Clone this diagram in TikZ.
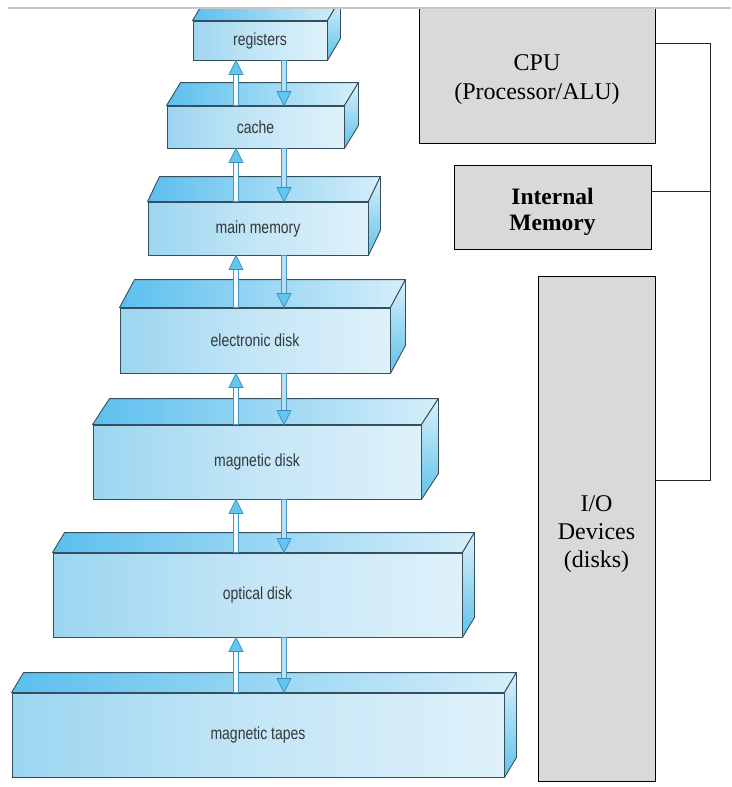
\documentclass[tikz,border=0pt]{standalone}
\usepackage{fontspec}
\usepackage{graphicx}
\setmainfont{Liberation Serif}
\newfontfamily\tiersans{Liberation Sans}
\usetikzlibrary{calc}

\definecolor{edgec}{HTML}{34505E}
\definecolor{faceL}{HTML}{9CD5F0}
\definecolor{faceM}{HTML}{C4E6F6}
\definecolor{faceR}{HTML}{DFF1FA}
\definecolor{topL}{HTML}{5CBFEE}
\definecolor{topR}{HTML}{D6EEF9}
\definecolor{sideT}{HTML}{DAF0FA}
\definecolor{sideB}{HTML}{60C1EC}
\definecolor{labelc}{HTML}{33383D}
\definecolor{shaftEdge}{HTML}{4197C2}
\definecolor{shaftUp}{HTML}{F4FAFD}
\definecolor{shaftDn}{HTML}{BFDDEC}
\definecolor{headFill}{HTML}{62C6F0}
\definecolor{headEdge}{HTML}{3A8CB8}
\definecolor{sysgray}{HTML}{D9D9D9}

\newcommand\tiertext[1]{\scalebox{0.8}[1]{#1}}

% top and right faces of a storage tier (node, depth dx, depth dy)
\newcommand\tierfaces[3]{%
  \path[topface] (#1.north west) -- ++(#2,#3) -- ($(#1.north east)+(#2,#3)$) -- (#1.north east) -- cycle;
  \path[sideface] (#1.north east) -- ++(#2,#3) -- ($(#1.south east)+(#2,#3)$) -- (#1.south east) -- cycle;
}
% upward transfer: from lower tier #1 to upper tier #2
\newcommand\climb[2]{%
  \path[shaftU] let \p1=(#1.north -| xu), \p2=(#2.south -| xu) in
    (\x1-2.5pt,\y1) rectangle (\x1+2.5pt,\y2-12pt);
  \path[headS] let \p2=(#2.south -| xu) in
    (\x2-7pt,\y2-14pt) -- (\x2,\y2) -- (\x2+7pt,\y2-14pt) -- cycle;
}
% downward transfer: from upper tier #1 to lower tier #2
\newcommand\descend[2]{%
  \path[shaftD] let \p1=(#1.south -| xd), \p2=(#2.north -| xd) in
    (\x1-2.5pt,\y1) rectangle (\x1+2.5pt,\y2+12pt);
  \path[headS] let \p2=(#2.north -| xd) in
    (\x2-7pt,\y2+14pt) -- (\x2,\y2) -- (\x2+7pt,\y2+14pt) -- cycle;
}

\tikzset{
  tier/.style={draw=edgec, line width=0.9pt, left color=faceL, right color=faceR,
    middle color=faceM, inner sep=0pt, text=labelc,
    font=\tiersans\fontsize{17.5}{20}\selectfont},
  topface/.style={draw=edgec, line width=0.9pt, line join=round, left color=topL, right color=topR},
  sideface/.style={draw=edgec, line width=0.9pt, line join=round, top color=sideT, bottom color=sideB},
  shaftU/.style={draw=shaftEdge, line width=0.8pt, fill=shaftUp},
  shaftD/.style={draw=shaftEdge, line width=0.8pt, fill=shaftDn},
  headS/.style={draw=headEdge, line width=0.7pt, fill=headFill, line join=round},
  sysbox/.style={draw=black, line width=1pt, fill=sysgray, inner sep=0pt},
  systext/.style={align=center, text=black, inner sep=0pt},
  bus/.style={draw=black!85, line width=1pt}
}

\begin{document}
\begin{tikzpicture}[x=1pt,y=-1pt]
\useasboundingbox (0,0) rectangle (731,787);
\fill[white] (0,0) rectangle (731,787);

\coordinate (xu) at (236,0);
\coordinate (xd) at (284,0);

\begin{scope}
\clip (0,8.6) rectangle (731,787);

% storage hierarchy
\node[tier, minimum width=134pt, minimum height=39pt] (reg) at (260,40.5) {\tiertext{registers}};
\tierfaces{reg}{13}{-22}
\node[tier, minimum width=177pt, minimum height=42pt] (cache) at (255.5,127) {\tiertext{cache}};
\tierfaces{cache}{14}{-23}
\node[tier, minimum width=220pt, minimum height=53pt] (mm) at (258,228.5) {\tiertext{main memory}};
\tierfaces{mm}{12}{-25}
\node[tier, minimum width=270pt, minimum height=65pt] (ed) at (255,340.5) {\tiertext{electronic disk}};
\tierfaces{ed}{15}{-28}
\node[tier, minimum width=328pt, minimum height=74pt] (md) at (257,462) {\tiertext{magnetic disk}};
\tierfaces{md}{17}{-26}
\node[tier, minimum width=409pt, minimum height=84pt] (od) at (257.5,595) {\tiertext{optical disk}};
\tierfaces{od}{12}{-20}
\node[tier, minimum width=492pt, minimum height=84pt] (mt) at (258,735) {\tiertext{magnetic tapes}};
\tierfaces{mt}{12}{-20}

% transfers between neighbouring tiers
\climb{cache}{reg}   \descend{reg}{cache}
\climb{mm}{cache}    \descend{cache}{mm}
\climb{ed}{mm}       \descend{mm}{ed}
\climb{md}{ed}       \descend{ed}{md}
\climb{od}{md}       \descend{md}{od}
\climb{mt}{od}       \descend{od}{mt}

% system blocks
\node[sysbox, minimum width=236pt, minimum height=145pt] (cpu) at (537,70.5) {};
\node[systext, font=\fontsize{24}{29}\selectfont] (cputxt) at (537,80) {CPU\\(Processor/ALU)};
\node[sysbox, minimum width=197pt, minimum height=84pt] (im) at (552.5,207) {};
\node[systext, font=\bfseries\fontsize{23.5}{26}\selectfont] (imtxt) at (552.5,212) {Internal\\Memory};
\node[sysbox, minimum width=117pt, minimum height=505pt] (io) at (596.5,528.5) {};
\node[systext, font=\fontsize{24}{28}\selectfont] (iotxt) at (596.5,534) {I/O\\Devices\\(disks)};

\coordinate (busT) at (710,43);
\coordinate (busM) at (710,191);
\coordinate (busB) at (710,480);
\draw[bus] (busT -| cpu.east) -- (busT) -- (busB) -- (busB -| io.east);
\draw[bus] (busM -| im.east) -- (busM);
\end{scope}

% rule along the top
\draw[black!22, line width=1.2pt] (8,8) -- (731,8);
\end{tikzpicture}
\end{document}
